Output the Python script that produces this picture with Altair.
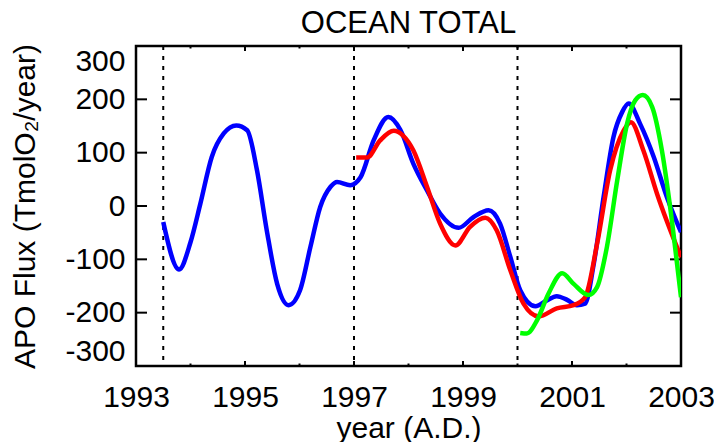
import altair as alt
import pandas as pd

# ---- data ----
blue_year = [1993.50, 1993.79, 1994.00, 1994.18, 1994.39, 1994.61, 1994.84, 1995.04, 1995.22,
             1995.40, 1995.59, 1995.80, 1996.01, 1996.20, 1996.38, 1996.57, 1996.69, 1996.93,
             1997.12, 1997.36, 1997.63, 1997.85, 1998.09, 1998.34, 1998.58, 1998.92, 1999.19,
             1999.47, 1999.68, 1999.87, 2000.05, 2000.33, 2000.54, 2000.72, 2000.91, 2001.09,
             2001.24, 2001.40, 2001.58, 2001.76, 2001.92, 2002.04, 2002.25, 2002.50, 2002.74,
             2003.00]
blue_flux = [-30, -119, -68, 4, 92, 136, 151, 142, 67,
             -46, -146, -186, -158, -77, -2, 36, 45, 39,
             54, 123, 167, 143, 79, 29, -14, -41, -21,
             -8, -33, -96, -158, -188, -177, -169, -176, -186,
             -183, -108, 17, 129, 176, 192, 154, 92, 17,
             -49]

red_year = [1997.04, 1997.24, 1997.48, 1997.73, 1997.90, 1998.09, 1998.34, 1998.58, 1998.86,
            1999.13, 1999.41, 1999.62, 1999.87, 2000.11, 2000.39, 2000.72, 2001.03, 2001.24,
            2001.46, 2001.70, 2001.95, 2002.08, 2002.31, 2002.56, 2003.00]
red_flux = [91, 91, 123, 141, 132, 104, 36, -33, -74,
            -39, -22, -46, -121, -183, -207, -192, -186, -171,
            -71, 67, 142, 157, 104, 23, -96]

green_year = [2000.05, 2000.17, 2000.36, 2000.57, 2000.82, 2001.03, 2001.30, 2001.46, 2001.64,
              2001.83, 2002.01, 2002.16, 2002.30, 2002.47, 2002.65, 2002.84, 2003.00]
green_flux = [-238, -239, -214, -164, -126, -146, -167, -152, -77,
              48, 154, 198, 208, 186, 104, -33, -171]

divider_years = [1993.5, 1997.0, 2000.0]
x_label_years = [1993, 1995, 1997, 1999, 2001, 2003]
x_major_ticks = [1995, 1997, 1999, 2001]
x_minor_ticks = [1994, 1996, 1998, 2000, 2002]
y_label_values = [-300, -200, -100, 0, 100, 200, 300]
y_ticks = [-200, -100, 0, 100, 200]

FONT = "Liberation Sans"
W, H = 545, 320

xscale = alt.Scale(domain=[1993, 2003], nice=False, zero=False)
yscale = alt.Scale(domain=[-300, 300], nice=False, zero=False)

x_axis = alt.Axis(values=x_label_years, format="d", ticks=False, tickSize=0, domain=False, grid=False,
                  labelFont=FONT, labelFontSize=30, labelPadding=16, labelOverlap=False,
                  labelFlush=False, labelColor="black",
                  title="year (A.D.)", titleFont=FONT, titleFontSize=30,
                  titleFontWeight="normal", titleColor="black", titleBaseline="alphabetic",
                  titleY=71)
y_axis = alt.Axis(values=y_label_values, ticks=False, tickSize=0, domain=False, grid=False,
                  labelFont=FONT, labelFontSize=30, labelPadding=11, labelOverlap=False,
                  labelFlush=True, labelColor="black", labelExpr="'' + datum.value",
                  title="APO Flux (TmolO\u2082/year)", titleFont=FONT, titleFontSize=30,
                  titleFontWeight="normal", titleColor="black", titleBaseline="alphabetic",
                  titleX=-102)

blue_df = pd.DataFrame({"year": blue_year, "flux": blue_flux})
red_df = pd.DataFrame({"year": red_year, "flux": red_flux})
green_df = pd.DataFrame({"year": green_year, "flux": green_flux})
div_df = pd.DataFrame({"year": divider_years})
ytick_df = pd.DataFrame({"v": y_ticks})
xmaj_df = pd.DataFrame({"year": x_major_ticks})
xmin_df = pd.DataFrame({"year": x_minor_ticks})


def curve(df, color):
    return alt.Chart(df).mark_line(interpolate="monotone", strokeWidth=4.5, color=color, clip=True).encode(
        x=alt.X("year:Q", scale=xscale, axis=x_axis),
        y=alt.Y("flux:Q", scale=yscale, axis=y_axis),
    )


dividers = alt.Chart(div_df).mark_rule(color="black", strokeWidth=2, strokeDash=[4, 6]).encode(
    x=alt.X("year:Q", scale=xscale, axis=x_axis),
    y=alt.value(0), y2=alt.value(H),
)

ytick_left = alt.Chart(ytick_df).mark_rule(color="black", strokeWidth=2).encode(
    y=alt.Y("v:Q", scale=yscale, axis=y_axis), x=alt.value(0), x2=alt.value(11))
ytick_right = alt.Chart(ytick_df).mark_rule(color="black", strokeWidth=2).encode(
    y=alt.Y("v:Q", scale=yscale, axis=y_axis), x=alt.value(W - 11), x2=alt.value(W))
xmaj_bot = alt.Chart(xmaj_df).mark_rule(color="black", strokeWidth=2).encode(
    x=alt.X("year:Q", scale=xscale, axis=x_axis), y=alt.value(H - 5), y2=alt.value(H))
xmaj_top = alt.Chart(xmaj_df).mark_rule(color="black", strokeWidth=2).encode(
    x=alt.X("year:Q", scale=xscale, axis=x_axis), y=alt.value(0), y2=alt.value(5))
xmin_bot = alt.Chart(xmin_df).mark_rule(color="black", strokeWidth=2).encode(
    x=alt.X("year:Q", scale=xscale, axis=x_axis), y=alt.value(H - 2.5), y2=alt.value(H))
xmin_top = alt.Chart(xmin_df).mark_rule(color="black", strokeWidth=2).encode(
    x=alt.X("year:Q", scale=xscale, axis=x_axis), y=alt.value(0), y2=alt.value(2.5))

chart = alt.layer(
    dividers, ytick_left, ytick_right, xmaj_bot, xmaj_top, xmin_bot, xmin_top,
    curve(blue_df, "#0000FF"), curve(red_df, "#FF0000"), curve(green_df, "#00FF00"),
).properties(
    width=W, height=H,
    title=alt.TitleParams("OCEAN TOTAL", font=FONT, fontSize=31, fontWeight="normal",
                          color="black", anchor="middle", offset=3),
    autosize=alt.AutoSizeParams(type="none"),
    padding={"left": 128, "top": 38, "right": 33, "bottom": 76},
).configure(
    background="white",
    view=alt.ViewConfig(stroke="black", strokeWidth=2.5),
)

chart.save("out.html", embed_options={"renderer": "svg", "actions": False})
